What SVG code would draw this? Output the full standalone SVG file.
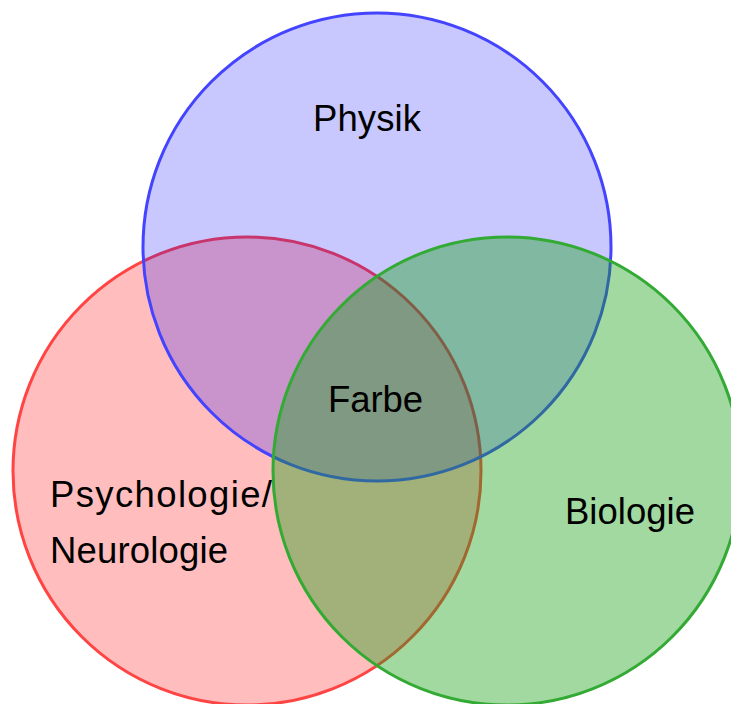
<svg xmlns="http://www.w3.org/2000/svg" width="731" height="704" viewBox="0 0 731 704">
<style>
  .lbl { font-family: "Liberation Sans", Arial, sans-serif; font-size: 36.5px; fill: #000; }
  .c { stroke-width: 3; }
</style>
<rect width="731" height="704" fill="#ffffff"/>
<g id="psychologie">
  <circle class="c" cx="247" cy="471" r="234" fill="#ff0000" fill-opacity="0.26" stroke="#ff4444"/>
</g>
<g id="physik">
  <circle class="c" cx="377" cy="247" r="234" fill="#0000ff" fill-opacity="0.216" stroke="#4444ff"/>
</g>
<g id="biologie">
  <circle class="c" cx="507" cy="471" r="234" fill="#14a014" fill-opacity="0.4" stroke="#33aa33"/>
</g>
<g id="labels">
  <text class="lbl" x="313" y="131" textLength="108" lengthAdjust="spacing">Physik</text>
  <text class="lbl" x="328" y="412" textLength="95" lengthAdjust="spacing">Farbe</text>
  <text class="lbl" x="50" y="507" textLength="222" lengthAdjust="spacing">Psychologie/</text>
  <text class="lbl" x="50" y="563" textLength="178" lengthAdjust="spacing">Neurologie</text>
  <text class="lbl" x="565" y="524" textLength="130" lengthAdjust="spacing">Biologie</text>
</g>
</svg>
